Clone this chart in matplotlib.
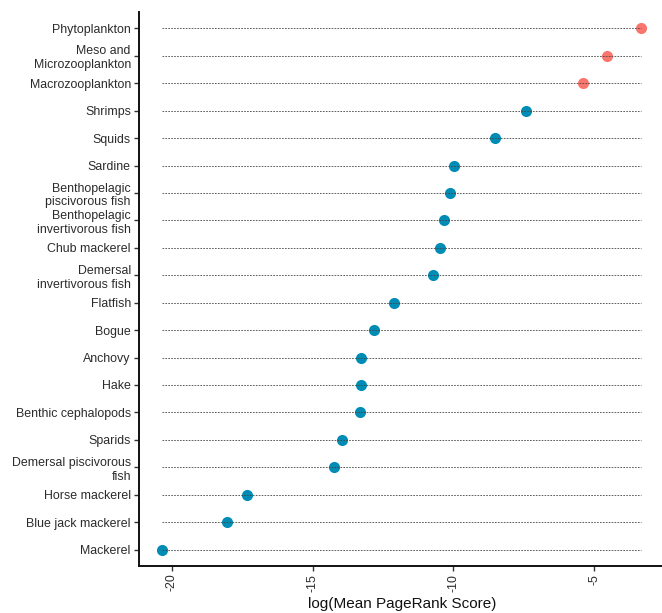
import matplotlib
matplotlib.use("Agg")
import matplotlib.pyplot as plt

plt.rcParams['font.family'] = ['Liberation Sans', 'DejaVu Sans']

# Data (top to bottom as displayed)
species = [
    "Phytoplankton",
    "Meso and\nMicrozooplankton",
    "Macrozooplankton",
    "Shrimps",
    "Squids",
    "Sardine",
    "Benthopelagic\npiscivorous fish",
    "Benthopelagic\ninvertivorous fish",
    "Chub mackerel",
    "Demersal\ninvertivorous fish",
    "Flatfish",
    "Bogue",
    "Anchovy",
    "Hake",
    "Benthic cephalopods",
    "Sparids",
    "Demersal piscivorous\nfish",
    "Horse mackerel",
    "Blue jack mackerel",
    "Mackerel",
]
log_pagerank = [-3.33, -4.55, -5.40, -7.43, -8.51, -9.99, -10.12, -10.33, -10.49, -10.71,
                -12.12, -12.82, -13.28, -13.28, -13.31, -13.97, -14.23, -17.35, -18.05, -20.34]
group = ["plankton", "plankton", "plankton"] + ["other"] * 17
group_colors = {"plankton": "#F8766D", "other": "#008CB5"}
xticks = [-20, -15, -10, -5]

fig = plt.figure(figsize=(6.62, 6.13), dpi=100)
W, H = 662, 613
left_px, right_px, top_px, bottom_px = 138.5, 665, 12, 566
ax = fig.add_axes([left_px / W, 1 - bottom_px / H, (right_px - left_px) / W, (bottom_px - top_px) / H])

n = len(species)
ypos = list(range(n - 1, -1, -1))
xmin, xmax = min(log_pagerank), max(log_pagerank)

for y, v, g in zip(ypos, log_pagerank, group):
    ax.scatter([v], [y], s=64, color=group_colors[g], zorder=2, linewidths=0)
ax.hlines(ypos, xmin, xmax, colors="#444444", linestyles=(0, (2.0, 1.5)), linewidth=0.6, zorder=3)

rng = xmax - xmin
ax.set_xlim(xmin - 0.05 * rng, xmax + 0.05 * rng)
ax.set_ylim(-0.6, n - 1 + 0.6)

ax.set_yticks(ypos)
ax.set_yticklabels(species, fontsize=8.9, color="#2b2b2b")
ax.set_xticks(xticks)
ax.set_xticklabels([str(t) for t in xticks], rotation=90, fontsize=8.9, color="#2b2b2b")
ax.tick_params(axis="both", length=3.5, width=1.0, color="#333333", pad=2)

for s in ["top", "right"]:
    ax.spines[s].set_visible(False)
for s in ["left", "bottom"]:
    ax.spines[s].set_linewidth(1.4)
    ax.spines[s].set_color("#111111")

ax.set_xlabel("log(Mean PageRank Score)", fontsize=11, color="#111111", labelpad=4)

fig.savefig("out.png", dpi=100)
